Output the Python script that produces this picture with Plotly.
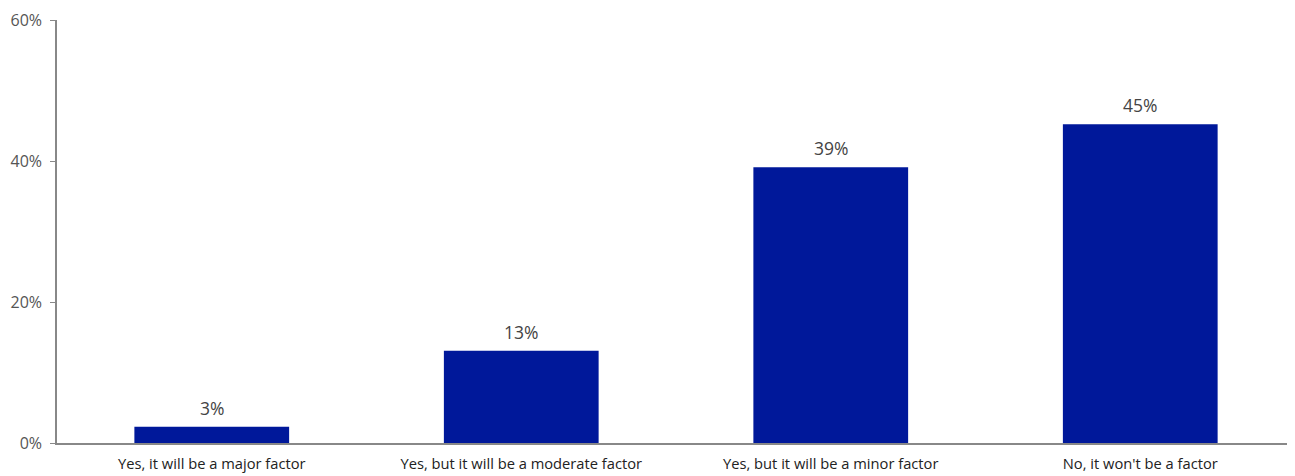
import plotly.graph_objects as go

categories = ["Yes, it will be a major factor", "Yes, but it will be a moderate factor",
              "Yes, but it will be a minor factor", "No, it won't be a factor"]
values = [2.3, 13.1, 39.1, 45.2]
labels = ["3%", "13%", "39%", "45%"]
y_ticks = [0, 20, 40, 60]
y_tick_labels = ["0%", "20%", "40%", "60%"]

fig = go.Figure()
fig.add_trace(go.Bar(x=categories, y=values, marker=dict(color="#00189A", line=dict(width=0)),
                     width=0.5, hoverinfo="skip"))
for c, v, t in zip(categories, values, labels):
    fig.add_annotation(x=c, y=v, text=t, showarrow=False, yanchor="bottom", yshift=5,
                       font=dict(size=17.5, color="#444444", family="Open Sans"))

fig.update_layout(
    width=1287, height=468,
    margin=dict(l=49, r=0, t=12, b=33, autoexpand=False),
    plot_bgcolor="white", paper_bgcolor="white",
    showlegend=False,
    font=dict(family="Open Sans", color="#444444", size=13),
)
fig.update_yaxes(range=[0, 60], tickvals=y_ticks, ticktext=y_tick_labels, showgrid=False,
                 showline=True, linecolor="#888888", linewidth=1.5, ticks="outside",
                 ticklen=5, tickcolor="#888888", tickfont=dict(size=16, color="#555555"),
                 zeroline=False, automargin=False, ticklabelstandoff=5)
fig.update_xaxes(showline=True, linecolor="#888888", linewidth=1.5, ticks="",
                 tickfont=dict(size=14.7, color="#222222"), showgrid=False, automargin=False,
                 ticklabelstandoff=7)
fig.write_html("out.html")
